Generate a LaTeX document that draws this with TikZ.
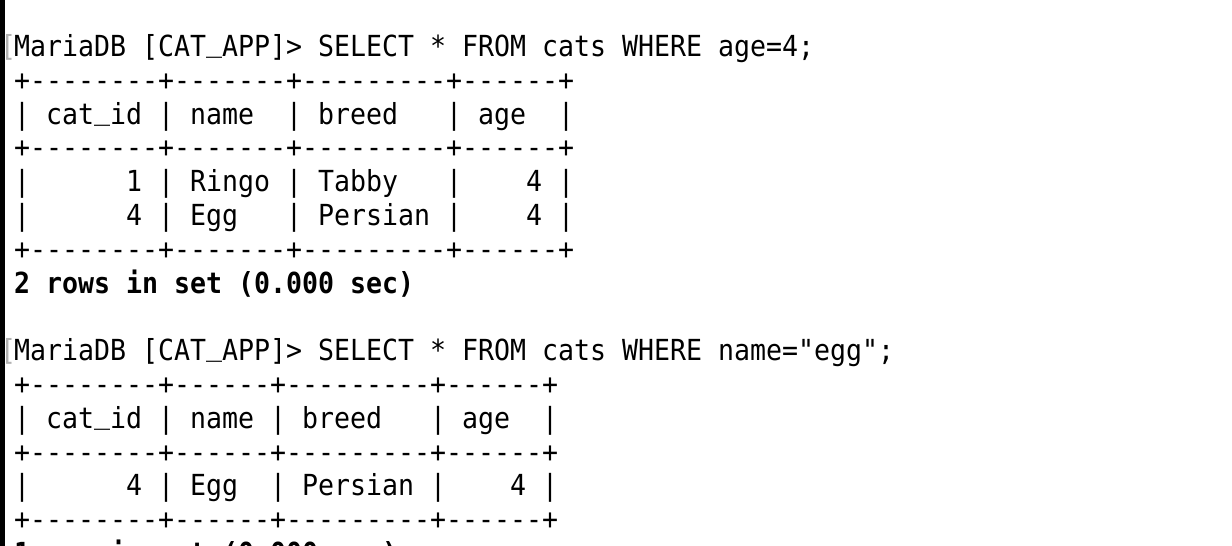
\documentclass[tikz,border=0pt]{standalone}
\usepackage{fontspec}
\setmonofont{DejaVu Sans Mono}[FakeStretch=0.9165]
\newcommand{\termus}{\raisebox{0.17em}{\_}}

\tikzset{
  termline/.style={anchor=base west, inner sep=0pt, outer sep=0pt, font=\ttfamily\fontsize{29}{34}\selectfont},
  termbold/.style={termline, font=\ttfamily\bfseries\fontsize{29}{34}\selectfont},
  promptmark/.style={termline, text=black!30},
}

\begin{document}
\begin{tikzpicture}[x=1pt,y=1pt]
                \useasboundingbox (0,0) rectangle (1232,-546);
                \clip (0,0) rectangle (1232,-546);
                \fill[white] (0,0) rectangle (1232,-546);
                \fill[black] (0,0) rectangle (5,-546);
                % first query
                \node[promptmark] (mark1) at (0,-56.5) {[};
                \node[termline] (query1) at (14,-56.5) {MariaDB [CAT\termus APP]> SELECT * FROM cats WHERE age=4;};
                \node[termline] (top1) at (14,-90.3) {+--------+-------+---------+------+};
                \node[termline] (head1) at (14,-124.1) {| cat\termus id | name~~| breed~~~| age~~|};
                \node[termline] (mid1) at (14,-157.9) {+--------+-------+---------+------+};
                \node[termline] (row1a) at (14,-191.7) {|~~~~~~1 | Ringo | Tabby~~~|~~~~4 |};
                \node[termline] (row1b) at (14,-225.5) {|~~~~~~4 | Egg~~~| Persian |~~~~4 |};
                \node[termline] (bot1) at (14,-259.3) {+--------+-------+---------+------+};
                \node[termbold] (count1) at (14,-293.1) {2 rows in set (0.000 sec)};
                % second query
                \node[promptmark] (mark2) at (0,-360.7) {[};
                \node[termline] (query2) at (14,-360.7) {MariaDB [CAT\termus APP]> SELECT * FROM cats WHERE name="egg";};
                \node[termline] (top2) at (14,-394.5) {+--------+------+---------+------+};
                \node[termline] (head2) at (14,-428.3) {| cat\termus id | name | breed~~~| age~~|};
                \node[termline] (mid2) at (14,-462.1) {+--------+------+---------+------+};
                \node[termline] (row2a) at (14,-495.9) {|~~~~~~4 | Egg~~| Persian |~~~~4 |};
                \node[termline] (bot2) at (14,-529.7) {+--------+------+---------+------+};
                \node[termbold] (count2) at (14,-563.5) {1 row in set (0.000 sec)};
            \end{tikzpicture}
\end{document}
